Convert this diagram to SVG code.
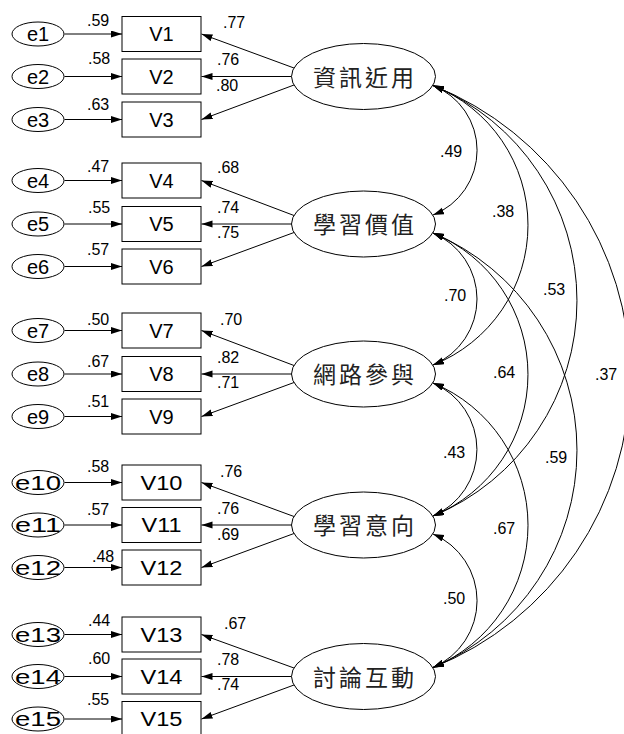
<svg xmlns="http://www.w3.org/2000/svg" width="624" height="734" viewBox="0 0 624 734">
<style>
.bg{fill:#fff}
.box{fill:#fff;stroke:#000;stroke-width:1}
.err{fill:#fff;stroke:#000;stroke-width:1}
.lat{fill:#fff;stroke:#000;stroke-width:1}
.ln{fill:none;stroke:#000;stroke-width:1;marker-end:url(#ah)}
.cv{fill:none;stroke:#000;stroke-width:1;marker-start:url(#ah);marker-end:url(#ah)}
.t{font-family:"Liberation Sans",Arial,sans-serif;font-size:20px;fill:#000;text-anchor:middle}
.c{font-family:"Noto Sans CJK TC","Noto Sans CJK SC",sans-serif;font-size:23px;fill:#222;text-anchor:middle}
.n{font-family:"Liberation Sans",Arial,sans-serif;font-size:16px;fill:#000}
</style>
<defs>
<marker id="ah" markerUnits="userSpaceOnUse" markerWidth="12" markerHeight="8" refX="11" refY="3.5" orient="auto-start-reverse">
<path d="M0,0 L11,3.5 L0,7 z" fill="#000"/>
</marker>
</defs>
<rect class="bg" x="0" y="0" width="624" height="734"/>
<g id="connectors">
<path class="ln" d="M64.5,34 L122,34"/>
<path class="ln" d="M64.5,76.5 L122,76.5"/>
<path class="ln" d="M64.5,119.5 L122,119.5"/>
<path class="ln" d="M64.5,180.5 L122,180.5"/>
<path class="ln" d="M64.5,224 L122,224"/>
<path class="ln" d="M64.5,266.5 L122,266.5"/>
<path class="ln" d="M64.5,330.5 L122,330.5"/>
<path class="ln" d="M64.5,374 L122,374"/>
<path class="ln" d="M64.5,416.5 L122,416.5"/>
<path class="ln" d="M64.5,482.5 L122,482.5"/>
<path class="ln" d="M64.5,525 L122,525"/>
<path class="ln" d="M64.5,567.5 L122,567.5"/>
<path class="ln" d="M64.5,634.5 L122,634.5"/>
<path class="ln" d="M64.5,676.5 L122,676.5"/>
<path class="ln" d="M64.5,719 L122,719"/>
<path class="ln" d="M294,68 L201.5,34"/>
<path class="ln" d="M291.5,76.5 L201.5,76.5"/>
<path class="ln" d="M294,85 L201.5,119.5"/>
<path class="ln" d="M294,215.5 L201.5,180.5"/>
<path class="ln" d="M291.5,224 L201.5,224"/>
<path class="ln" d="M294,232.5 L201.5,266.5"/>
<path class="ln" d="M294,365.5 L201.5,330.5"/>
<path class="ln" d="M291.5,374 L201.5,374"/>
<path class="ln" d="M294,382.5 L201.5,416.5"/>
<path class="ln" d="M294,516.5 L201.5,482.5"/>
<path class="ln" d="M291.5,525 L201.5,525"/>
<path class="ln" d="M294,533.5 L201.5,567.5"/>
<path class="ln" d="M294,668 L201.5,634.5"/>
<path class="ln" d="M291.5,676.5 L201.5,676.5"/>
<path class="ln" d="M294,685 L201.5,719"/>
<path class="cv" d="M433,85.5 A69.6,69.6 0 0 1 433,215"/>
<path class="cv" d="M433,85.5 A150.3,150.3 0 0 1 433,365"/>
<path class="cv" d="M433,85.5 A232.9,232.9 0 0 1 433,516"/>
<path class="cv" d="M433,85.5 A313.4,313.4 0 0 1 433,667.5"/>
<path class="cv" d="M433,233 A71.5,71.5 0 0 1 433,365"/>
<path class="cv" d="M433,233 A152.9,152.9 0 0 1 433,516"/>
<path class="cv" d="M433,233 A235.9,235.9 0 0 1 433,667.5"/>
<path class="cv" d="M433,383 A72.3,72.3 0 0 1 433,516"/>
<path class="cv" d="M433,383 A154,154 0 0 1 433,667.5"/>
<path class="cv" d="M433,534 A72.6,72.6 0 0 1 433,667.5"/>
</g>
<g id="labels">
<text class="n" x="87" y="26">.59</text>
<text class="n" x="88" y="64">.58</text>
<text class="n" x="87" y="110">.63</text>
<text class="n" x="87" y="172">.47</text>
<text class="n" x="88" y="213">.55</text>
<text class="n" x="87" y="255">.57</text>
<text class="n" x="87" y="325">.50</text>
<text class="n" x="87" y="367">.67</text>
<text class="n" x="87" y="407">.51</text>
<text class="n" x="87" y="472">.58</text>
<text class="n" x="87" y="515">.57</text>
<text class="n" x="92" y="562">.48</text>
<text class="n" x="88" y="626">.44</text>
<text class="n" x="88" y="664">.60</text>
<text class="n" x="87" y="705">.55</text>
<text class="n" x="223" y="28">.77</text>
<text class="n" x="217" y="65">.76</text>
<text class="n" x="216" y="91">.80</text>
<text class="n" x="217" y="173">.68</text>
<text class="n" x="217" y="213">.74</text>
<text class="n" x="217" y="238">.75</text>
<text class="n" x="220" y="325">.70</text>
<text class="n" x="217" y="363">.82</text>
<text class="n" x="217" y="388">.71</text>
<text class="n" x="220" y="477">.76</text>
<text class="n" x="217" y="514">.76</text>
<text class="n" x="217" y="540">.69</text>
<text class="n" x="224" y="629">.67</text>
<text class="n" x="217" y="665">.78</text>
<text class="n" x="217" y="690">.74</text>
<text class="n" x="440" y="157">.49</text>
<text class="n" x="492" y="217">.38</text>
<text class="n" x="543" y="295">.53</text>
<text class="n" x="444" y="301">.70</text>
<text class="n" x="493" y="378">.64</text>
<text class="n" x="595" y="380">.37</text>
<text class="n" x="443" y="458">.43</text>
<text class="n" x="545" y="463">.59</text>
<text class="n" x="493" y="534">.67</text>
<text class="n" x="443" y="604">.50</text>
</g>
<g id="e1"><ellipse class="err" cx="38" cy="34" rx="26" ry="12"/><text class="t" x="38" y="41">e1</text></g>
<g id="e2"><ellipse class="err" cx="38" cy="76.5" rx="26" ry="12"/><text class="t" x="38" y="83.5">e2</text></g>
<g id="e3"><ellipse class="err" cx="38" cy="119.5" rx="26" ry="12"/><text class="t" x="38" y="126.5">e3</text></g>
<g id="e4"><ellipse class="err" cx="38" cy="180.5" rx="26" ry="12"/><text class="t" x="38" y="187.5">e4</text></g>
<g id="e5"><ellipse class="err" cx="38" cy="224" rx="26" ry="12"/><text class="t" x="38" y="231">e5</text></g>
<g id="e6"><ellipse class="err" cx="38" cy="266.5" rx="26" ry="12"/><text class="t" x="38" y="273.5">e6</text></g>
<g id="e7"><ellipse class="err" cx="38" cy="330.5" rx="26" ry="12"/><text class="t" x="38" y="337.5">e7</text></g>
<g id="e8"><ellipse class="err" cx="38" cy="374" rx="26" ry="12"/><text class="t" x="38" y="381">e8</text></g>
<g id="e9"><ellipse class="err" cx="38" cy="416.5" rx="26" ry="12"/><text class="t" x="38" y="423.5">e9</text></g>
<g id="e10"><ellipse class="err" cx="38" cy="482.5" rx="26" ry="12"/><text class="t" x="38" y="489.5" textLength="46" lengthAdjust="spacingAndGlyphs">e10</text></g>
<g id="e11"><ellipse class="err" cx="38" cy="525" rx="26" ry="12"/><text class="t" x="38" y="532" textLength="46" lengthAdjust="spacingAndGlyphs">e11</text></g>
<g id="e12"><ellipse class="err" cx="38" cy="567.5" rx="26" ry="12"/><text class="t" x="38" y="574.5" textLength="46" lengthAdjust="spacingAndGlyphs">e12</text></g>
<g id="e13"><ellipse class="err" cx="38" cy="634.5" rx="26" ry="12"/><text class="t" x="38" y="641.5" textLength="46" lengthAdjust="spacingAndGlyphs">e13</text></g>
<g id="e14"><ellipse class="err" cx="38" cy="676.5" rx="26" ry="12"/><text class="t" x="38" y="683.5" textLength="46" lengthAdjust="spacingAndGlyphs">e14</text></g>
<g id="e15"><ellipse class="err" cx="38" cy="719" rx="26" ry="12"/><text class="t" x="38" y="726" textLength="46" lengthAdjust="spacingAndGlyphs">e15</text></g>
<g id="V1"><rect class="box" x="122" y="16.5" width="79" height="35"/><text class="t" x="161.5" y="41">V1</text></g>
<g id="V2"><rect class="box" x="122" y="59" width="79" height="35"/><text class="t" x="161.5" y="83.5">V2</text></g>
<g id="V3"><rect class="box" x="122" y="102" width="79" height="35"/><text class="t" x="161.5" y="126.5">V3</text></g>
<g id="V4"><rect class="box" x="122" y="163" width="79" height="35"/><text class="t" x="161.5" y="187.5">V4</text></g>
<g id="V5"><rect class="box" x="122" y="206.5" width="79" height="35"/><text class="t" x="161.5" y="231">V5</text></g>
<g id="V6"><rect class="box" x="122" y="249" width="79" height="35"/><text class="t" x="161.5" y="273.5">V6</text></g>
<g id="V7"><rect class="box" x="122" y="313" width="79" height="35"/><text class="t" x="161.5" y="337.5">V7</text></g>
<g id="V8"><rect class="box" x="122" y="356.5" width="79" height="35"/><text class="t" x="161.5" y="381">V8</text></g>
<g id="V9"><rect class="box" x="122" y="399" width="79" height="35"/><text class="t" x="161.5" y="423.5">V9</text></g>
<g id="V10"><rect class="box" x="122" y="465" width="79" height="35"/><text class="t" x="161.5" y="489.5" textLength="42" lengthAdjust="spacingAndGlyphs">V10</text></g>
<g id="V11"><rect class="box" x="122" y="507.5" width="79" height="35"/><text class="t" x="161.5" y="532" textLength="40" lengthAdjust="spacingAndGlyphs">V11</text></g>
<g id="V12"><rect class="box" x="122" y="550" width="79" height="35"/><text class="t" x="161.5" y="574.5" textLength="42" lengthAdjust="spacingAndGlyphs">V12</text></g>
<g id="V13"><rect class="box" x="122" y="617" width="79" height="35"/><text class="t" x="161.5" y="641.5" textLength="42" lengthAdjust="spacingAndGlyphs">V13</text></g>
<g id="V14"><rect class="box" x="122" y="659" width="79" height="35"/><text class="t" x="161.5" y="683.5" textLength="42" lengthAdjust="spacingAndGlyphs">V14</text></g>
<g id="V15"><rect class="box" x="122" y="701.5" width="79" height="35"/><text class="t" x="161.5" y="726" textLength="42" lengthAdjust="spacingAndGlyphs">V15</text></g>
<g id="F1"><ellipse class="lat" cx="363.5" cy="76.5" rx="72" ry="33"/><text class="c" x="363.5" y="85.5" textLength="101" lengthAdjust="spacing">資訊近用</text></g>
<g id="F2"><ellipse class="lat" cx="363.5" cy="224" rx="72" ry="33"/><text class="c" x="363.5" y="233" textLength="101" lengthAdjust="spacing">學習價值</text></g>
<g id="F3"><ellipse class="lat" cx="363.5" cy="374" rx="72" ry="33"/><text class="c" x="363.5" y="383" textLength="101" lengthAdjust="spacing">網路參與</text></g>
<g id="F4"><ellipse class="lat" cx="363.5" cy="525" rx="72" ry="33"/><text class="c" x="363.5" y="534" textLength="101" lengthAdjust="spacing">學習意向</text></g>
<g id="F5"><ellipse class="lat" cx="363.5" cy="676.5" rx="72" ry="33"/><text class="c" x="363.5" y="685.5" textLength="101" lengthAdjust="spacing">討論互動</text></g>
</svg>
